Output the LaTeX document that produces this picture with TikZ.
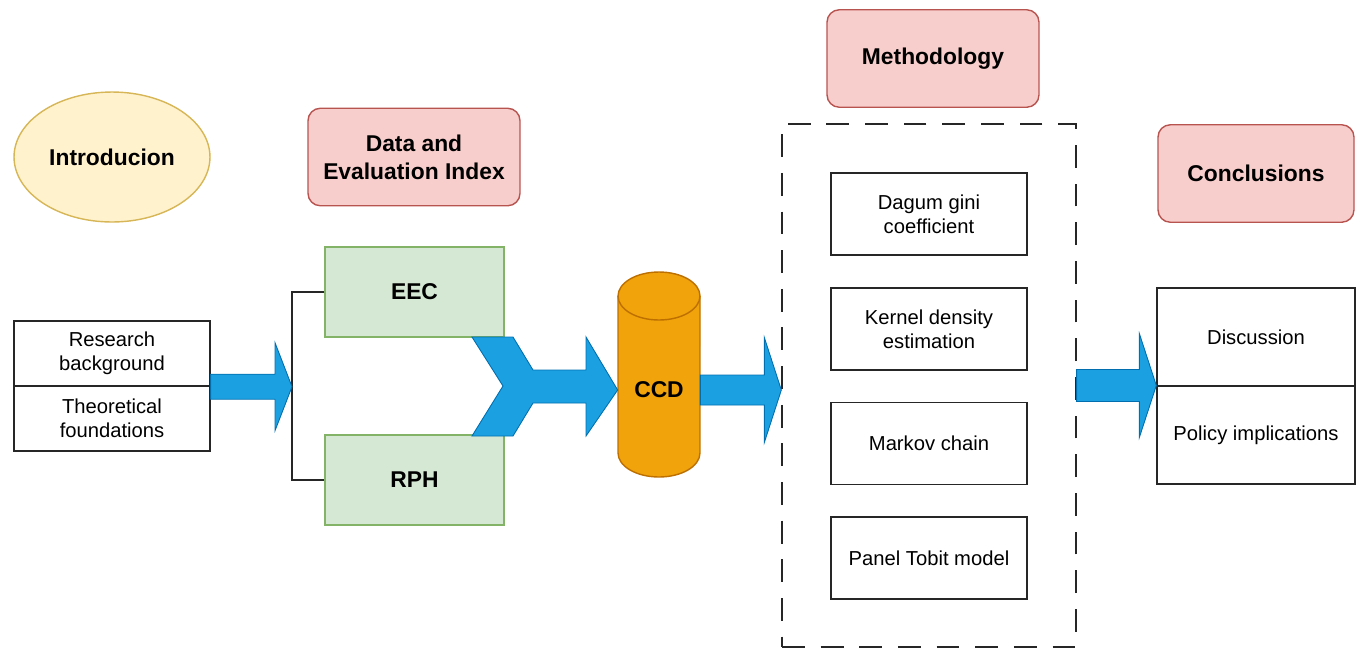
\documentclass[tikz,border=0pt]{standalone}
\usepackage{fontspec}
\setmainfont{Liberation Sans}
\usetikzlibrary{shapes.geometric,calc}

\definecolor{pinkfill}{HTML}{F8CECC}
\definecolor{pinkline}{HTML}{B85450}
\definecolor{greenfill}{HTML}{D5E8D4}
\definecolor{greenline}{HTML}{82B366}
\definecolor{yellowfill}{HTML}{FFF2CC}
\definecolor{yellowline}{HTML}{D6B656}
\definecolor{arrowfill}{HTML}{1BA1E2}
\definecolor{arrowline}{HTML}{006EAF}
\definecolor{drumfill}{HTML}{F0A30A}
\definecolor{drumline}{HTML}{BD7000}

\tikzset{
  heading/.style={draw=pinkline, fill=pinkfill, rounded corners=7pt, line width=0.8pt,
    minimum height=1.95cm, align=center, font=\fontsize{13}{16}\selectfont\bfseries},
  plainbox/.style={draw=black!85, line width=0.8pt, minimum width=3.92cm,
    align=center, font=\fontsize{11.5}{13.6}\selectfont},
  greenbox/.style={draw=greenline, fill=greenfill, line width=0.8pt, minimum width=3.58cm,
    minimum height=1.8cm, font=\fontsize{13}{16}\selectfont\bfseries},
  fatfill/.style={fill=arrowfill, draw=arrowline, line width=0.5pt},
  fat arrow/.style n args={3}{fatfill, to path={let \p1=(\tikztostart), \p2=(\tikztotarget) in
    (\x1,\y1+#1) -- (\x2-#3,\y1+#1) -- (\x2-#3,\y1+#2) -- (\x2,\y1)
    -- (\x2-#3,\y1-#2) -- (\x2-#3,\y1-#1) -- (\x1,\y1-#1) -- cycle}}
}

\begin{document}
\begin{tikzpicture}[x=0.02cm, y=-0.02cm]
  \useasboundingbox (0,0) rectangle (1357,647);

  \node[ellipse, draw=yellowline, fill=yellowfill, line width=0.8pt, minimum width=3.92cm,
    minimum height=2.6cm, font=\fontsize{13}{16}\selectfont\bfseries] (intro) at (112,157) {Introducion};
  \node[heading, minimum width=4.24cm] (data) at (414,157) {Data and\\Evaluation Index};
  \node[heading, minimum width=4.24cm] (method) at (933,58.5) {Methodology};
  \node[heading, minimum width=3.92cm] (concl) at (1256,173.5) {Conclusions};

  \node[plainbox, minimum height=1.3cm] (research) at (112,353.5) {Research\\background};
  \node[plainbox, minimum height=1.3cm] (theory) at (112,418.5) {Theoretical\\foundations};

  \node[greenbox] (eec) at (414.5,292) {EEC};
  \node[greenbox] (rph) at (414.5,480) {RPH};
  \coordinate (fork) at (292,386);
  \draw[line width=0.8pt, black!85] (eec.west) -| (fork) |- (rph.west);

  \filldraw[fill=drumfill, draw=drumline, line width=0.8pt]
    (618,296) -- (618,453) arc[start angle=180, end angle=360, x radius=0.82cm, y radius=0.48cm]
    -- (700,296) arc[start angle=0, end angle=180, x radius=0.82cm, y radius=0.48cm] -- cycle;
  \draw[drumline, line width=0.8pt] (618,296) arc[start angle=180, end angle=360, x radius=0.82cm, y radius=0.48cm];
  \node[minimum width=1.64cm, inner sep=0pt, font=\fontsize{13}{16}\selectfont\bfseries] (ccd) at (659,390) {CCD};

  \node[draw=black!85, dash pattern=on 13pt off 9pt, line width=0.8pt, minimum width=5.88cm,
    minimum height=10.46cm] (methodbox) at (929,385.5) {};
  \node[plainbox, minimum height=1.64cm] (dagum) at (929,214) {Dagum gini\\coefficient};
  \node[plainbox, minimum height=1.64cm] (kernel) at (929,329) {Kernel density\\estimation};
  \node[plainbox, minimum height=1.64cm] (markov) at (929,443.5) {Markov chain};
  \node[plainbox, minimum height=1.64cm] (tobit) at (929,558) {Panel Tobit model};

  \node[plainbox, minimum width=3.96cm, minimum height=1.96cm] (disc) at (1256,337) {Discussion};
  \node[plainbox, minimum width=3.96cm, minimum height=1.96cm] (policy) at (1256,435) {Policy implications};

  \draw[fat arrow={0.25cm}{0.88cm}{0.34cm}] (research.south east) to (fork);
  \filldraw[fatfill] (472,337) -- (513,337) -- (533,370) -- (586,370) -- (586,337) -- (ccd.west)
    -- (586,436) -- (586,403) -- (533,403) -- (513,436) -- (472,436) -- (503,386) -- cycle;
  \draw[fat arrow={0.3cm}{1.05cm}{0.34cm}] (ccd.east) to (methodbox.west);
  \draw[fat arrow={0.32cm}{1.04cm}{0.34cm}] (methodbox.east) to (disc.south west);
\end{tikzpicture}
\end{document}
